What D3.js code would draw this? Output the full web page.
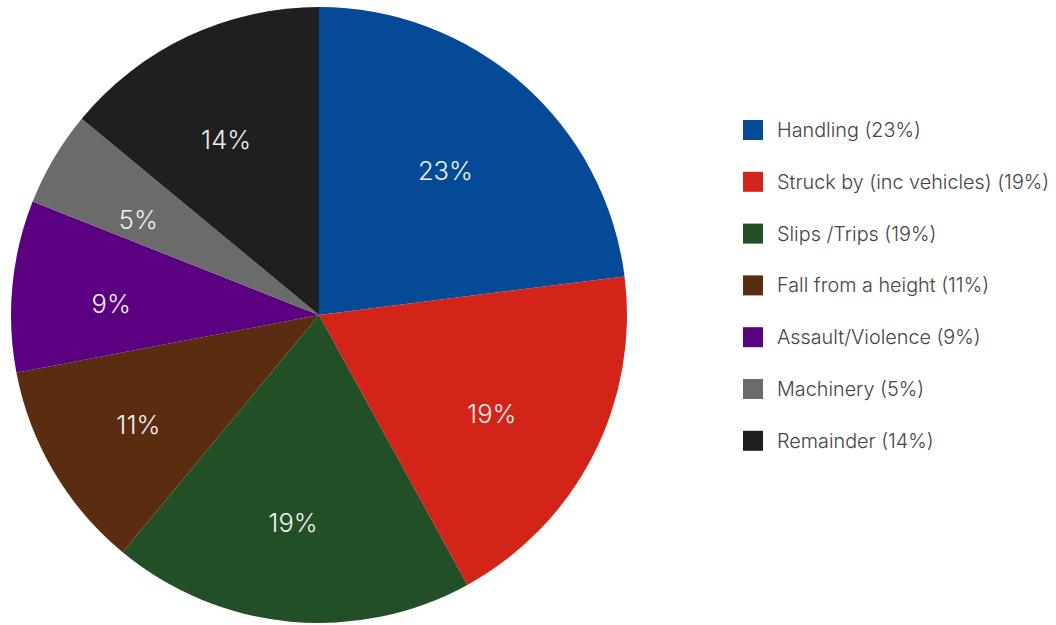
<!DOCTYPE html>
<html>
<head>
<meta charset="utf-8">
<script src="https://cdn.jsdelivr.net/npm/d3@7"></script>
<style>
  html, body { margin: 0; padding: 0; background: #fff; }
  svg { display: block; }
</style>
</head>
<body>
<svg id="chart" width="1056" height="625"></svg>
<script>
// Accident causes, share of total (%)
const categories = ["Handling", "Struck by (inc vehicles)", "Slips /Trips", "Fall from a height", "Assault/Violence", "Machinery", "Remainder"];
const shares = [23, 19, 19, 11, 9, 5, 14];
const colors = ["#054a96", "#d22418", "#224f26", "#5a2c10", "#5b0080", "#6b6b6b", "#1f1f1f"];

const data = categories.map((c, i) => ({ name: c, value: shares[i], color: colors[i] }));

const svg = d3.select("#chart");
const cx = 319, cy = 315, radius = 308;

const pie = d3.pie().value(d => d.value).sort(null);
const arc = d3.arc().innerRadius(0).outerRadius(radius);
const labelArc = d3.arc().innerRadius(radius * 0.655).outerRadius(radius * 0.655);

const g = svg.append("g").attr("transform", `translate(${cx},${cy})`);
const arcs = pie(data);

g.selectAll("path.slice")
  .data(arcs)
  .join("path")
  .attr("class", "slice")
  .attr("d", arc)
  .attr("fill", d => d.data.color);

// percentage labels, nudged slightly left and down from the slice centroid
g.selectAll("text.pct")
  .data(arcs)
  .join("text")
  .attr("class", "pct")
  .attr("transform", d => {
    const [x, y] = labelArc.centroid(d);
    return `translate(${x - 7},${y + 7})`;
  })
  .attr("text-anchor", "middle")
  .attr("dominant-baseline", "central")
  .attr("fill", "#f0f0f0")
  .style("font-family", "Inter, 'Open Sans', sans-serif")
  .style("font-weight", 300)
  .style("font-size", "25.5px")
  .text(d => d.data.value + "%");

// Legend
const legend = svg.append("g").attr("transform", "translate(743,120)");
const rowH = 51.8;
const rows = legend.selectAll("g.row")
  .data(data)
  .join("g")
  .attr("class", "row")
  .attr("transform", (d, i) => `translate(0,${i * rowH})`);

rows.append("rect")
  .attr("width", 20)
  .attr("height", 20)
  .attr("fill", d => d.color);

rows.append("text")
  .attr("x", 34)
  .attr("y", 10)
  .attr("dominant-baseline", "central")
  .attr("fill", "#444")
  .style("font-family", "Inter, 'Open Sans', sans-serif")
  .style("font-weight", 300)
  .style("font-size", "19.8px")
  .text(d => `${d.name} (${d.value}%)`);
</script>
</body>
</html>
